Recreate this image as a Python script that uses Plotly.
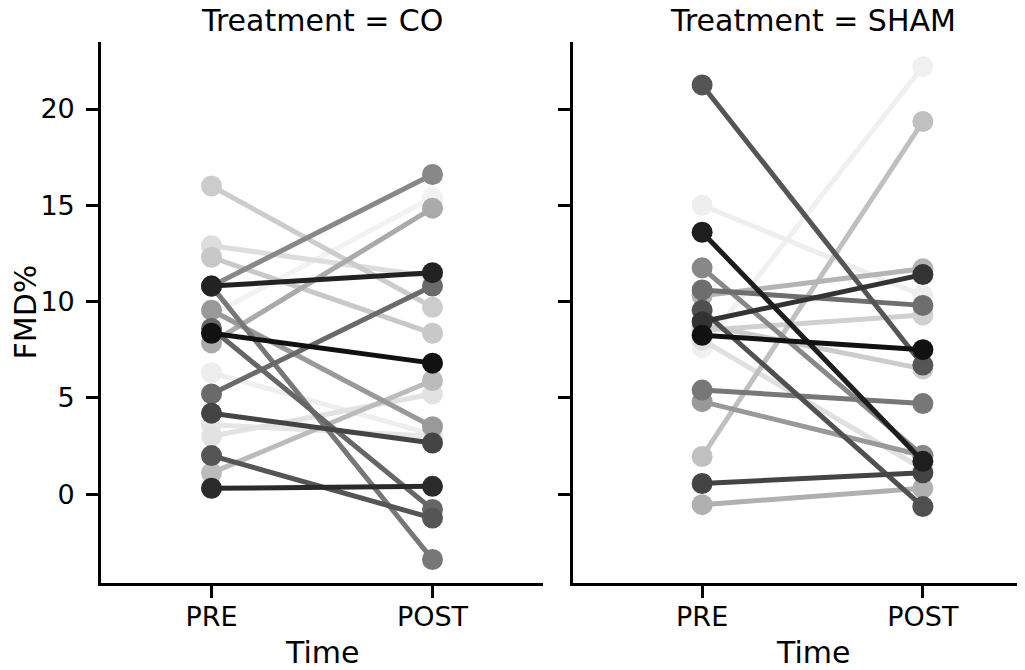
import plotly.graph_objects as go

times = ["PRE", "POST"]
panels = ["CO", "SHAM"]

co_pre = [16.0, 12.9, 12.3, 10.8, 10.8, 10.8, 9.55, 8.35, 8.6, 7.85, 9.3, 6.3, 5.2, 4.2, 3.6, 3.0, 2.0, 1.1, 0.3]
co_post = [9.7, 11.3, 8.35, 11.5, 16.6, -3.4, 3.5, 6.8, -0.8, 14.85, 15.4, 3.1, 10.8, 2.65, 3.0, 5.2, -1.25, 5.9, 0.4]
co_gray = [204, 221, 200, 34, 136, 119, 153, 17, 102, 170, 242, 238, 106, 68, 230, 226, 85, 187, 42]

sham_pre = [21.25, 15.0, 13.6, 11.75, 10.6, 10.3, 9.55, 8.95, 8.25, 7.6, 8.5, 8.8, 5.4, 4.8, 1.95, 0.55, -0.55, 8.0]
sham_post = [6.7, 10.3, 1.7, 2.0, 9.8, 11.7, -0.65, 11.4, 7.5, 22.2, 9.3, 6.5, 4.7, 2.0, 19.35, 1.1, 0.3, 1.3]
sham_gray = [85, 238, 30, 136, 110, 180, 80, 51, 17, 240, 208, 204, 119, 153, 192, 68, 176, 224]

y_ticks = [0, 5, 10, 15, 20]

FONT = "DejaVu Sans"
fig = go.Figure()

def add_panel(pre, post, gray, xa, ya):
    order = sorted(range(len(pre)), key=lambda i: -gray[i])
    for i in order:
        c = "rgb(%d,%d,%d)" % (gray[i], gray[i], gray[i])
        fig.add_trace(go.Scatter(
            x=[0, 1], y=[pre[i], post[i]], mode="lines+markers",
            line=dict(color=c, width=5),
            marker=dict(color=c, size=21),
            xaxis=xa, yaxis=ya, showlegend=False, hoverinfo="y"))

add_panel(co_pre, co_post, co_gray, "x", "y")
add_panel(sham_pre, sham_post, sham_gray, "x2", "y2")

# page body has an 8px margin, so figure coords = screen coords - 8
L, R, T, B = 93, 13, 34, 95
W, H = 1025, 670
pw = W - L - R
d1 = (535 - L) / pw
d2 = (565 - L) / pw

axis_common = dict(showgrid=False, zeroline=False, showline=True, linecolor="black",
                   linewidth=2.6, ticks="outside", ticklen=12, tickwidth=2.6,
                   tickcolor="black", tickfont=dict(family=FONT, size=27, color="black"))

fig.update_layout(
    width=W, height=H, margin=dict(l=L, r=R, t=T, b=B),
    plot_bgcolor="white", paper_bgcolor="white",
    font=dict(family=FONT, color="black"),
    xaxis=dict(domain=[0, d1], range=[-0.5, 1.5], tickvals=[0, 1], ticktext=times,
               anchor="y", ticklabelstandoff=-4, **axis_common),
    xaxis2=dict(domain=[d2, 1], range=[-0.585, 1.44], tickvals=[0, 1], ticktext=times,
                anchor="y2", ticklabelstandoff=-4, **axis_common),
    yaxis=dict(domain=[0, 1], range=[-4.62, 23.48], tickvals=y_ticks, anchor="x",
               ticklabelstandoff=6, **axis_common),
    yaxis2=dict(domain=[0, 1], range=[-4.62, 23.48], tickvals=y_ticks, anchor="x2",
                showticklabels=False, matches="y", **axis_common),
)

annots = [
    dict(text="Treatment = " + panels[0], x=0.5, xref="x domain", y=1, yref="paper",
         yanchor="middle", yshift=22, showarrow=False, font=dict(family=FONT, size=30)),
    dict(text="Treatment = " + panels[1], x=0.5, xref="x2", y=1, yref="paper",
         yanchor="middle", yshift=22, showarrow=False, font=dict(family=FONT, size=30)),
    dict(text="Time", x=0.5, xref="x domain", y=0, yref="paper", yanchor="middle",
         yshift=-69, showarrow=False, font=dict(family=FONT, size=30)),
    dict(text="Time", x=0.5, xref="x2", y=0, yref="paper", yanchor="middle",
         yshift=-69, showarrow=False, font=dict(family=FONT, size=30)),
    dict(text="FMD%", x=0, xref="paper", xanchor="center", xshift=-76, y=0.5, yref="paper",
         textangle=-90, showarrow=False, font=dict(family=FONT, size=30)),
]
fig.update_layout(annotations=annots)

fig.write_html("out.html")
